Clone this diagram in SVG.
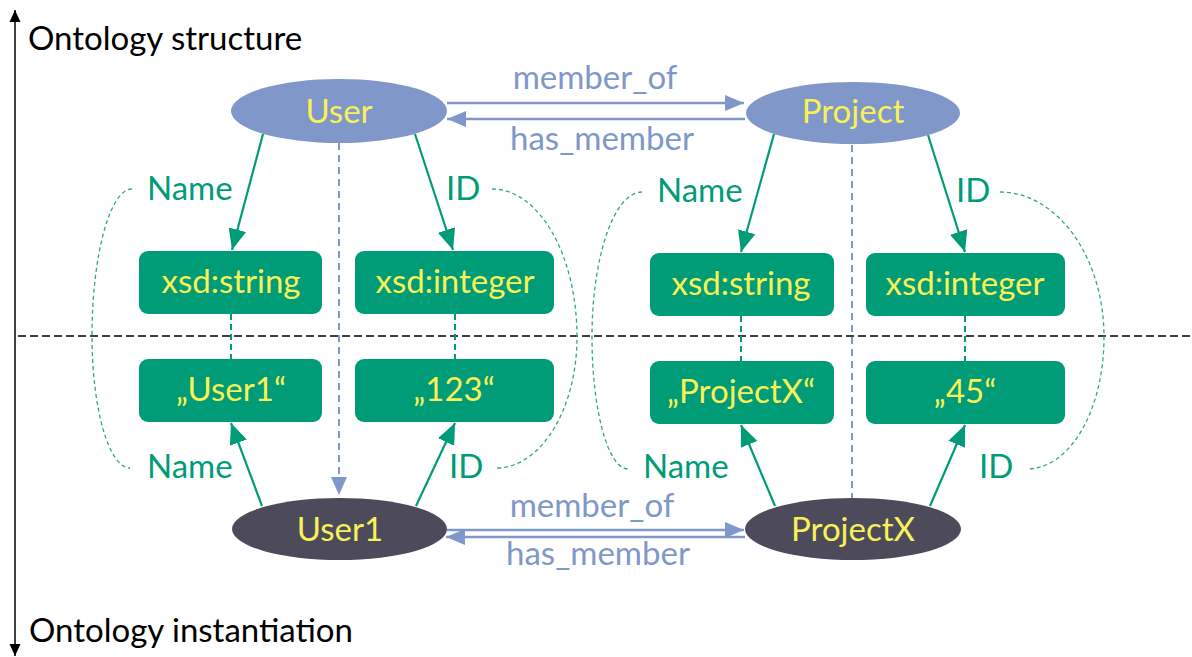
<svg xmlns="http://www.w3.org/2000/svg" width="1192" height="657" viewBox="0 0 1192 657">
  <style>
    text { font-family: Lato, "Liberation Sans", sans-serif; font-size: 33px; }
    .mid { text-anchor: middle; }
    .title { fill: #000000; }
    .cls { fill: #7F97C9; }
    .inst { fill: #4D4B5B; }
    .box { fill: #009B77; }
    .lbl { fill: #F8F158; }
    .prop { fill: #009B77; }
    .rel { fill: #7F97C9; }
    .garrow { stroke: #009B77; stroke-width: 2.2; fill: none; marker-end: url(#headGreen); }
    .barrow { stroke: #7F97C9; stroke-width: 2.6; fill: none; marker-end: url(#headBlue); }
    .gdash { stroke: #009B77; stroke-width: 2; stroke-dasharray: 6 4; fill: none; }
    .bdash { stroke: #7F97C9; stroke-width: 2; stroke-dasharray: 7 5; fill: none; }
    .bracket { stroke: #2EA888; stroke-width: 1.3; stroke-dasharray: 4 3; fill: none; }
  </style>
  <defs>
    <marker id="headGreen" markerUnits="userSpaceOnUse" markerWidth="22" markerHeight="20" refX="21" refY="10" orient="auto">
      <path d="M0,1 L21,10 L0,19 z" fill="#009B77"/>
    </marker>
    <marker id="headBlue" markerUnits="userSpaceOnUse" markerWidth="20" markerHeight="18" refX="19" refY="9" orient="auto">
      <path d="M0,1 L19,9 L0,17 z" fill="#7F97C9"/>
    </marker>
    <marker id="headBlack" markerUnits="userSpaceOnUse" markerWidth="12" markerHeight="12" refX="12" refY="6" orient="auto">
      <path d="M0,0.5 L12,6 L0,11.5 z" fill="#000000"/>
    </marker>
  </defs>

  <!-- vertical axis and level labels -->
  <g id="axis">
    <line x1="15" y1="336" x2="15" y2="10" stroke="#000" stroke-width="1.5" marker-end="url(#headBlack)"/>
    <line x1="15" y1="336" x2="15" y2="656" stroke="#000" stroke-width="1.5" marker-end="url(#headBlack)"/>
    <text class="title" x="28" y="50">Ontology structure</text>
    <text class="title" x="29" y="642">Ontology instantiation</text>
  </g>

  <!-- boundary between schema and instance level -->
  <g id="divider">
    <line x1="18" y1="336" x2="1192" y2="336" stroke="#000" stroke-width="1.6" stroke-dasharray="8 4"/>
  </g>

  <g id="connectors">
    <!-- bracket curves tying the property labels together -->
    <path class="bracket" d="M132,189 C110,189 92,255 92,336 C92,409 109,468 130,468"/>
    <path class="bracket" d="M492,189 C539,189 577,255 577,337 C577,409 541,468 496,468"/>
    <path class="bracket" d="M642,192 C614,192 592,257 592,337 C592,410 608,469 628,469"/>
    <path class="bracket" d="M1000,192 C1057,192 1104,257 1104,337 C1104,410 1070,469 1027,469"/>

    <!-- type / value links -->
    <line class="gdash" x1="231" y1="314" x2="231" y2="359"/>
    <line class="gdash" x1="455" y1="314" x2="455" y2="359"/>
    <line class="gdash" x1="741" y1="316" x2="741" y2="361"/>
    <line class="gdash" x1="965" y1="316" x2="965" y2="361"/>

    <!-- class to instance links -->
    <line class="bdash" x1="339" y1="143" x2="339" y2="478"/>
    <path d="M331,477 L339,495 L347,477 z" fill="#7F97C9"/>
    <line class="bdash" x1="852" y1="145" x2="852" y2="498"/>

    <!-- data properties -->
    <line class="garrow" x1="263" y1="134" x2="232" y2="250"/>
    <line class="garrow" x1="415" y1="134" x2="453" y2="250"/>
    <line class="garrow" x1="774" y1="134" x2="741" y2="252"/>
    <line class="garrow" x1="928" y1="135" x2="965" y2="252"/>
    <line class="garrow" x1="262" y1="506" x2="231" y2="423"/>
    <line class="garrow" x1="416" y1="506" x2="455" y2="423"/>
    <line class="garrow" x1="775" y1="506" x2="741" y2="425"/>
    <line class="garrow" x1="930" y1="506" x2="965" y2="425"/>

    <text class="prop" x="147" y="200">Name</text>
    <text class="prop" x="446" y="200">ID</text>
    <text class="prop" x="147" y="478">Name</text>
    <text class="prop" x="449" y="478">ID</text>
    <text class="prop" x="657" y="202">Name</text>
    <text class="prop" x="956" y="202">ID</text>
    <text class="prop" x="643" y="478">Name</text>
    <text class="prop" x="979" y="478">ID</text>

    <!-- object properties -->
    <line class="barrow" x1="447" y1="103" x2="744" y2="103"/>
    <line class="barrow" x1="745" y1="119" x2="447" y2="119"/>
    <line class="barrow" x1="447" y1="530" x2="744" y2="530"/>
    <line class="barrow" x1="745" y1="537" x2="446" y2="537"/>

    <text class="rel mid" x="595" y="89">member_of</text>
    <text class="rel mid" x="602" y="150">has_member</text>
    <text class="rel mid" x="592" y="517">member_of</text>
    <text class="rel mid" x="598" y="565">has_member</text>
  </g>

  <!-- classes -->
  <g id="user">
    <ellipse class="cls" cx="339" cy="111" rx="108" ry="32"/>
    <text class="lbl mid" x="339" y="123">User</text>
  </g>
  <g id="project">
    <ellipse class="cls" cx="853" cy="113" rx="107" ry="31"/>
    <text class="lbl mid" x="853" y="123">Project</text>
  </g>

  <!-- instances -->
  <g id="user1">
    <ellipse class="inst" cx="339.5" cy="529" rx="107.5" ry="31"/>
    <text class="lbl mid" x="340" y="541">User1</text>
  </g>
  <g id="projectx">
    <ellipse class="inst" cx="853" cy="529" rx="108" ry="31"/>
    <text class="lbl mid" x="853" y="541">ProjectX</text>
  </g>

  <!-- datatypes -->
  <g id="user-name-type">
    <rect class="box" x="139" y="251" width="183" height="63" rx="9"/>
    <text class="lbl mid" x="231" y="293">xsd:string</text>
  </g>
  <g id="user-id-type">
    <rect class="box" x="355" y="251" width="199" height="63" rx="9"/>
    <text class="lbl mid" x="455" y="293">xsd:integer</text>
  </g>
  <g id="project-name-type">
    <rect class="box" x="650" y="253" width="184" height="63" rx="9"/>
    <text class="lbl mid" x="741" y="295">xsd:string</text>
  </g>
  <g id="project-id-type">
    <rect class="box" x="866" y="253" width="199" height="63" rx="9"/>
    <text class="lbl mid" x="965" y="295">xsd:integer</text>
  </g>

  <!-- literal values -->
  <g id="user-name-value">
    <rect class="box" x="139" y="359" width="183" height="63" rx="9"/>
    <text class="lbl mid" x="231" y="401">„User1“</text>
  </g>
  <g id="user-id-value">
    <rect class="box" x="355" y="359" width="199" height="63" rx="9"/>
    <text class="lbl mid" x="454" y="401">„123“</text>
  </g>
  <g id="project-name-value">
    <rect class="box" x="650" y="361" width="184" height="63" rx="9"/>
    <text class="lbl mid" x="741" y="403">„ProjectX“</text>
  </g>
  <g id="project-id-value">
    <rect class="box" x="866" y="361" width="199" height="63" rx="9"/>
    <text class="lbl mid" x="965" y="403">„45“</text>
  </g>
</svg>
